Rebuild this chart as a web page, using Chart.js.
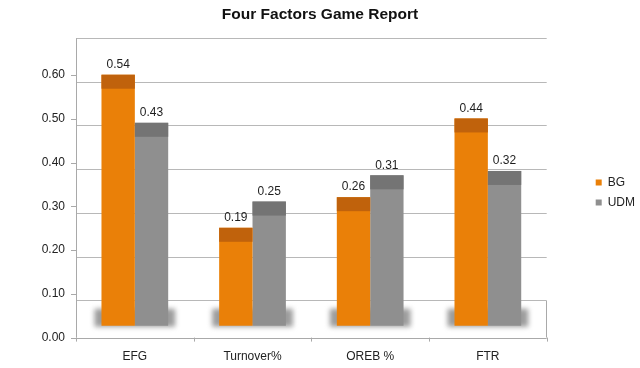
<!DOCTYPE html>
<html>
<head>
<meta charset="utf-8">
<script src="https://cdn.jsdelivr.net/npm/chart.js@4.4.1/dist/chart.umd.min.js"></script>
<style>
  body { margin: 0; background: #fff; }
  #grafico { display: block; }
</style>
</head>
<body>
<canvas id="grafico" width="640" height="368"></canvas>
<script>
// ==================== DATOS ====================
const categorias = ["EFG", "Turnover%", "OREB %", "FTR"];
const valoresBG = [0.54, 0.19, 0.26, 0.44];
const valoresUDM = [0.43, 0.25, 0.31, 0.32];
const ejeMin = 0;
const ejeMax = 0.7;
const ejePaso = 0.1;

// estilo "3D" de Excel: la pared del fondo queda unos px por debajo de la etiqueta
const DESFASE_PARED = 7;      // px
const DESFASE_3D = 0.077;     // profundidad de las barras, en unidades del eje
const BASE_BARRAS = -0.034;   // suelo de las barras en el eje de barras
const ALTO_TAPA = 14;         // px de la franja oscura superior

const colores = {
  BG: { cuerpo: "#EA8008", tapa: "#C0620C" },
  UDM: { cuerpo: "#8F8F8F", tapa: "#747474" }
};
const fuente = "'Liberation Sans', Arial, sans-serif";

// ==================== PLUGIN DECORACION ====================
const decoracion = {
  id: "decoracion",
  beforeDatasetsDraw(chart) {
    const { ctx, chartArea: a, scales } = chart;
    const y = scales.y;
    const frente = v => y.getPixelForValue(v) - DESFASE_PARED;
    const y0 = frente(0);
    ctx.save();
    ctx.strokeStyle = "#a9a9a9";
    ctx.lineWidth = 1;
    ctx.beginPath();
    // eje y frontal
    ctx.moveTo(a.left + 0.5, a.top);
    ctx.lineTo(a.left + 0.5, y0);
    // eje x frontal
    ctx.moveTo(a.left, Math.round(y0) + 0.5);
    ctx.lineTo(a.right, Math.round(y0) + 0.5);
    // borde derecho del suelo
    ctx.moveTo(Math.round(a.right) - 0.5, y.getPixelForValue(ejePaso));
    ctx.lineTo(Math.round(a.right) - 0.5, y0);
    // marcas del eje y
    for (let v = ejeMin; v < ejeMax - 1e-9; v += ejePaso) {
      const py = Math.round(frente(v)) + 0.5;
      ctx.moveTo(a.left - 5, py);
      ctx.lineTo(a.left, py);
    }
    // marcas del eje x (entre categorias)
    const anchoCat = (a.right - a.left) / categorias.length;
    for (let i = 0; i <= categorias.length; i++) {
      const px = Math.round(a.left + i * anchoCat) + 0.5;
      ctx.moveTo(px, y0);
      ctx.lineTo(px, y0 + 4);
    }
    ctx.stroke();

    // sombra difusa bajo cada par de barras
    const m0 = chart.getDatasetMeta(0), m1 = chart.getDatasetMeta(1);
    const yb = scales.yBarras.getPixelForValue(BASE_BARRAS);
    ctx.filter = "blur(2.5px)";
    ctx.fillStyle = "#9c9c9c";
    categorias.forEach((c, i) => {
      const l = m0.data[i].x - m0.data[i].width / 2 - 7;
      const r = m1.data[i].x + m1.data[i].width / 2 + 7;
      ctx.fillRect(l, yb - 17, r - l, 18);
    });
    ctx.restore();
  },
  afterDatasetsDraw(chart) {
    const { ctx } = chart;
    ctx.save();
    chart.data.datasets.forEach((ds, di) => {
      const meta = chart.getDatasetMeta(di);
      meta.data.forEach((bar, i) => {
        const w = bar.width;
        ctx.fillStyle = ds.colorTapa;
        ctx.fillRect(bar.x - w / 2, bar.y, w, ALTO_TAPA);
        ctx.fillStyle = "#1e1e1e";
        ctx.font = "12px " + fuente;
        ctx.textAlign = "center";
        ctx.textBaseline = "middle";
        ctx.fillText(ds.data[i].toFixed(2), bar.x, bar.y - 10);
      });
    });
    ctx.restore();
  }
};

// ==================== GRAFICO ====================
const ctx = document.getElementById("grafico").getContext("2d");
new Chart(ctx, {
  type: "bar",
  data: {
    labels: categorias,
    datasets: [
      { label: "BG", data: valoresBG, backgroundColor: colores.BG.cuerpo, colorTapa: colores.BG.tapa, yAxisID: "yBarras", base: BASE_BARRAS },
      { label: "UDM", data: valoresUDM, backgroundColor: colores.UDM.cuerpo, colorTapa: colores.UDM.tapa, yAxisID: "yBarras", base: BASE_BARRAS }
    ]
  },
  options: {
    responsive: false,
    animation: false,
    datasets: { bar: { categoryPercentage: 0.567, barPercentage: 1.0 } },
    layout: { padding: { top: 0, right: 0, bottom: 0, left: 0 } },
    plugins: {
      tooltip: { enabled: false },
      title: {
        display: true,
        text: "Four Factors Game Report",
        color: "#111",
        font: { family: fuente, size: 15.5, weight: "bold", lineHeight: 1.2 },
        padding: { top: 5.7, bottom: 14.1 }
      },
      legend: {
        position: "right",
        maxWidth: 52.3,
        title: { display: true, text: " ", font: { size: 12, lineHeight: 1.2 }, padding: { top: 0, bottom: 2.6 } },
        labels: { boxWidth: 6, boxHeight: 6, padding: 8, color: "#222", font: { family: fuente, size: 12 } }
      }
    },
    scales: {
      x: {
        offset: true,
        grid: { display: false, drawTicks: false },
        border: { display: false },
        ticks: { color: "#222", font: { family: fuente, size: 12 }, padding: 5 },
        afterFit: s => { s.height = 23.4; }
      },
      y: {
        position: "left",
        min: ejeMin,
        max: ejeMax,
        grid: {
          drawTicks: false,
          color: c => (c.tick && c.tick.value === 0 ? "rgba(0,0,0,0)" : "#b8b8b8")
        },
        border: { display: false },
        ticks: {
          stepSize: ejePaso,
          padding: 11,
          labelOffset: -DESFASE_PARED,
          color: "#222",
          font: { family: fuente, size: 12 },
          callback: v => (v > ejeMax - 1e-9 ? "" : v.toFixed(2))
        },
        afterFit: s => { s.width = 76; }
      },
      yBarras: {
        position: "right",
        min: ejeMin - DESFASE_3D,
        max: ejeMax - DESFASE_3D,
        grid: { display: false, drawTicks: false },
        border: { display: false },
        ticks: { display: false },
        afterFit: s => { s.width = 41; }
      }
    }
  },
  plugins: [decoracion]
});
</script>
</body>
</html>
